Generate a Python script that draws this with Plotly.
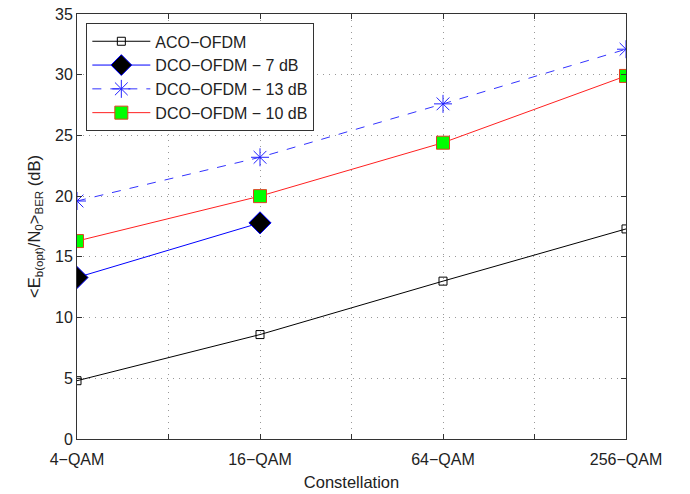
import plotly.graph_objects as go

x_pos = [2, 4, 6, 8]
tick_vals = [2, 3, 4, 5, 6, 7, 8]
tick_text = ["4−QAM", "", "16−QAM", "", "64−QAM", "", "256−QAM"]

aco = [4.8, 8.6, 13.0, 17.3]
dco7_x = [2, 4]
dco7 = [13.3, 17.8]
dco13 = [19.6, 23.2, 27.6, 32.1]
dco10 = [16.3, 20.0, 24.4, 29.9]

fig = go.Figure()
fig.add_trace(go.Scatter(x=x_pos, y=aco, name="ACO−OFDM", mode="lines+markers",
                         line=dict(color="black", width=1),
                         marker=dict(symbol="square-open", size=8, color="black", line=dict(width=1))))
fig.add_trace(go.Scatter(x=dco7_x, y=dco7, name="DCO−OFDM − 7 dB", mode="lines+markers",
                         line=dict(color="#0000ff", width=1),
                         marker=dict(symbol="diamond", size=17, color="black", line=dict(color="#0000ff", width=1))))
fig.add_trace(go.Scatter(x=x_pos, y=dco13, name="DCO−OFDM − 13 dB", mode="lines+markers",
                         line=dict(color="#3333ff", width=1, dash="dash"),
                         marker=dict(symbol="asterisk-open", size=15, color="#2222ff", line=dict(color="#2222ff", width=1))))
fig.add_trace(go.Scatter(x=x_pos, y=dco10, name="DCO−OFDM − 10 dB", mode="lines+markers",
                         line=dict(color="#ff2020", width=1),
                         marker=dict(symbol="square", size=13, color="#00ff00", line=dict(color="#e04020", width=1))))

axis_common = dict(showline=True, linecolor="#333333", linewidth=1, mirror="ticks",
                   ticks="inside", ticklen=5, tickcolor="#333333",
                   showgrid=True, gridcolor="#999999", griddash="1px,5px", gridwidth=1,
                   zeroline=False, ticklabeloverflow="allow",
                   tickfont=dict(size=16, color="#222222"))

fig.update_layout(
    width=690, height=494,
    margin=dict(l=77, r=64, t=14, b=55),
    paper_bgcolor="white", plot_bgcolor="white",
    font=dict(family="Liberation Sans, Arial, sans-serif", color="#222222"),
    showlegend=True,
    legend=dict(x=0.017, y=0.978, xanchor="left", yanchor="top",
                bgcolor="white", bordercolor="#333333", borderwidth=1,
                font=dict(size=16, color="#222222"), tracegroupgap=0, itemwidth=58),
    xaxis=dict(range=[2, 8], tickvals=tick_vals, ticktext=tick_text, ticklabelstandoff=6,
               automargin=False,
               title=dict(text="Constellation", font=dict(size=16.5), standoff=9), **axis_common),
    yaxis=dict(range=[0, 35], dtick=5, automargin=False,
               title=dict(text="&lt;E<sub>b(opt)</sub>/N<sub>0</sub>&gt;<sub>BER</sub> (dB)",
                          font=dict(size=16.5), standoff=10), **axis_common),
)

fig.write_html("out.html", config={"displayModeBar": False},
               post_script="document.body.style.margin='0px';")
